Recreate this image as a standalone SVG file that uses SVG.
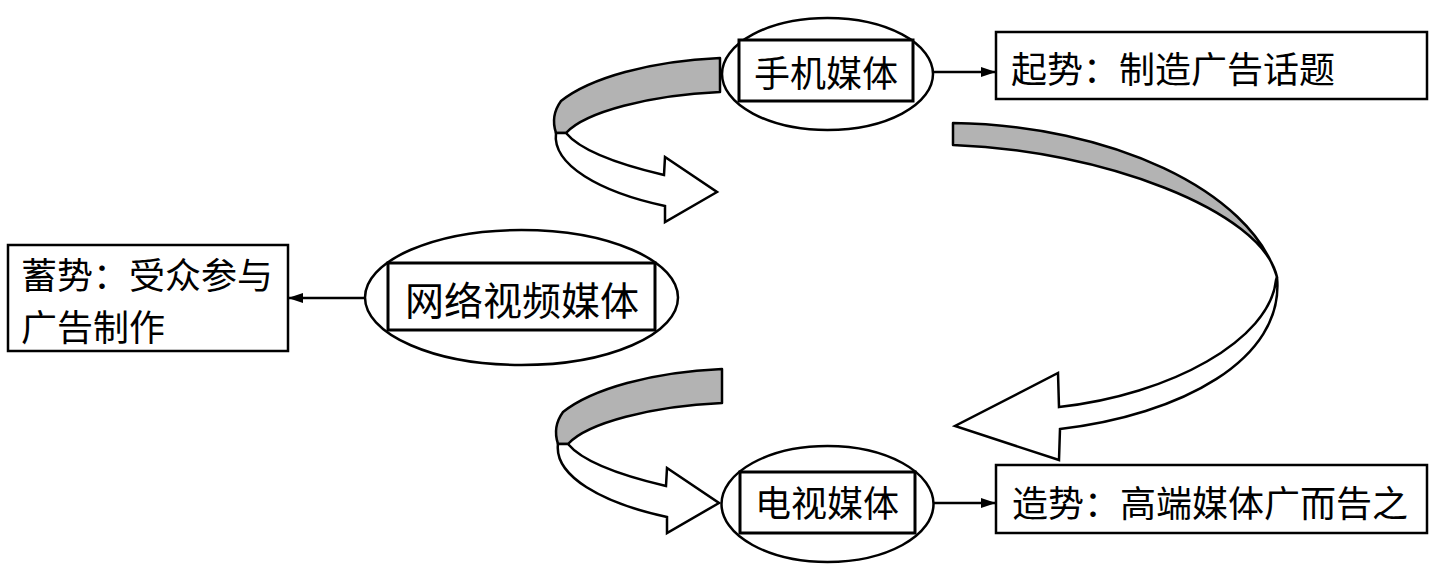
<svg xmlns="http://www.w3.org/2000/svg" width="1436" height="565" viewBox="0 0 1436 565">
<style>
.ln{fill:none;stroke:#000;stroke-width:2.5}
.nd{fill:#fff;stroke:#000;stroke-width:2.5}
.ir{fill:#fff;stroke:#000;stroke-width:3}
.gr{fill:#b3b3b3;stroke:#000;stroke-width:2.5;stroke-linejoin:round}
.wh{fill:#fff;stroke:#000;stroke-width:2.5;stroke-linejoin:miter}
.t{font-family:"Noto Sans CJK SC","Noto Sans",sans-serif;font-size:36px;fill:#000}
</style>
<defs>
<marker id="ah" viewBox="0 0 15 10" refX="14" refY="5" markerWidth="15" markerHeight="10" markerUnits="userSpaceOnUse" orient="auto">
<path d="M0,0 L15,5 L0,10 Z" fill="#000"/>
</marker>
<g id="twist">
<path class="gr" d="M720,58 C650,61 590,78 561,101 C553,112 553,124 556,133 L566,133 C585,112 650,95 720,92 Z"/>
<path class="wh" d="M556,133 C552,165 600,192 665,206 L665,222 L717,192 L665,157 L664,175 C617,164 580,150 566,133 Z"/>
</g>
</defs>
<g id="connectors">
<use href="#twist"/>
<use href="#twist" transform="translate(2,311)"/>
<path class="gr" d="M953,123 C1110,125 1250,190 1277,277 C1262,210 1100,150 953,145 Z"/>
<path class="wh" d="M1277,277 C1285,360 1180,415 1060,429 L1059,460 L955,426 L1058,373 L1059,407 C1170,395 1270,340 1276,280 Z"/>
<path class="ln" d="M933,72 L995,72" marker-end="url(#ah)"/>
<path class="ln" d="M365,298 L289,298" marker-end="url(#ah)"/>
<path class="ln" d="M934,503 L995,503" marker-end="url(#ah)"/>
</g>
<g id="n-phone">
<ellipse class="nd" cx="827.5" cy="74" rx="105.5" ry="56"/>
<rect class="ir" x="739" y="40" width="174" height="61"/>
<text class="t" x="826" y="86.5" text-anchor="middle">手机媒体</text>
</g>
<g id="n-phone-note">
<rect class="nd" x="996" y="32" width="431" height="67"/>
<text class="t" x="1011" y="82.5">起势：制造广告话题</text>
</g>
<g id="n-web">
<ellipse class="nd" cx="521.5" cy="297.5" rx="156.5" ry="67.5"/>
<rect class="ir" x="388" y="263" width="267" height="67"/>
<text class="t" x="522" y="314.5" text-anchor="middle" style="font-size:39px">网络视频媒体</text>
</g>
<g id="n-web-note">
<rect class="nd" x="8" y="245" width="280" height="106"/>
<text class="t" x="21" y="288.5">蓄势：受众参与</text>
<text class="t" x="21" y="340.5">广告制作</text>
</g>
<g id="n-tv">
<ellipse class="nd" cx="827.5" cy="504" rx="106" ry="58"/>
<rect class="ir" x="740" y="472" width="175" height="61"/>
<text class="t" x="827" y="516.5" text-anchor="middle">电视媒体</text>
</g>
<g id="n-tv-note">
<rect class="nd" x="996" y="465" width="431" height="68"/>
<text class="t" x="1012" y="516.5">造势：高端媒体广而告之</text>
</g>
</svg>
